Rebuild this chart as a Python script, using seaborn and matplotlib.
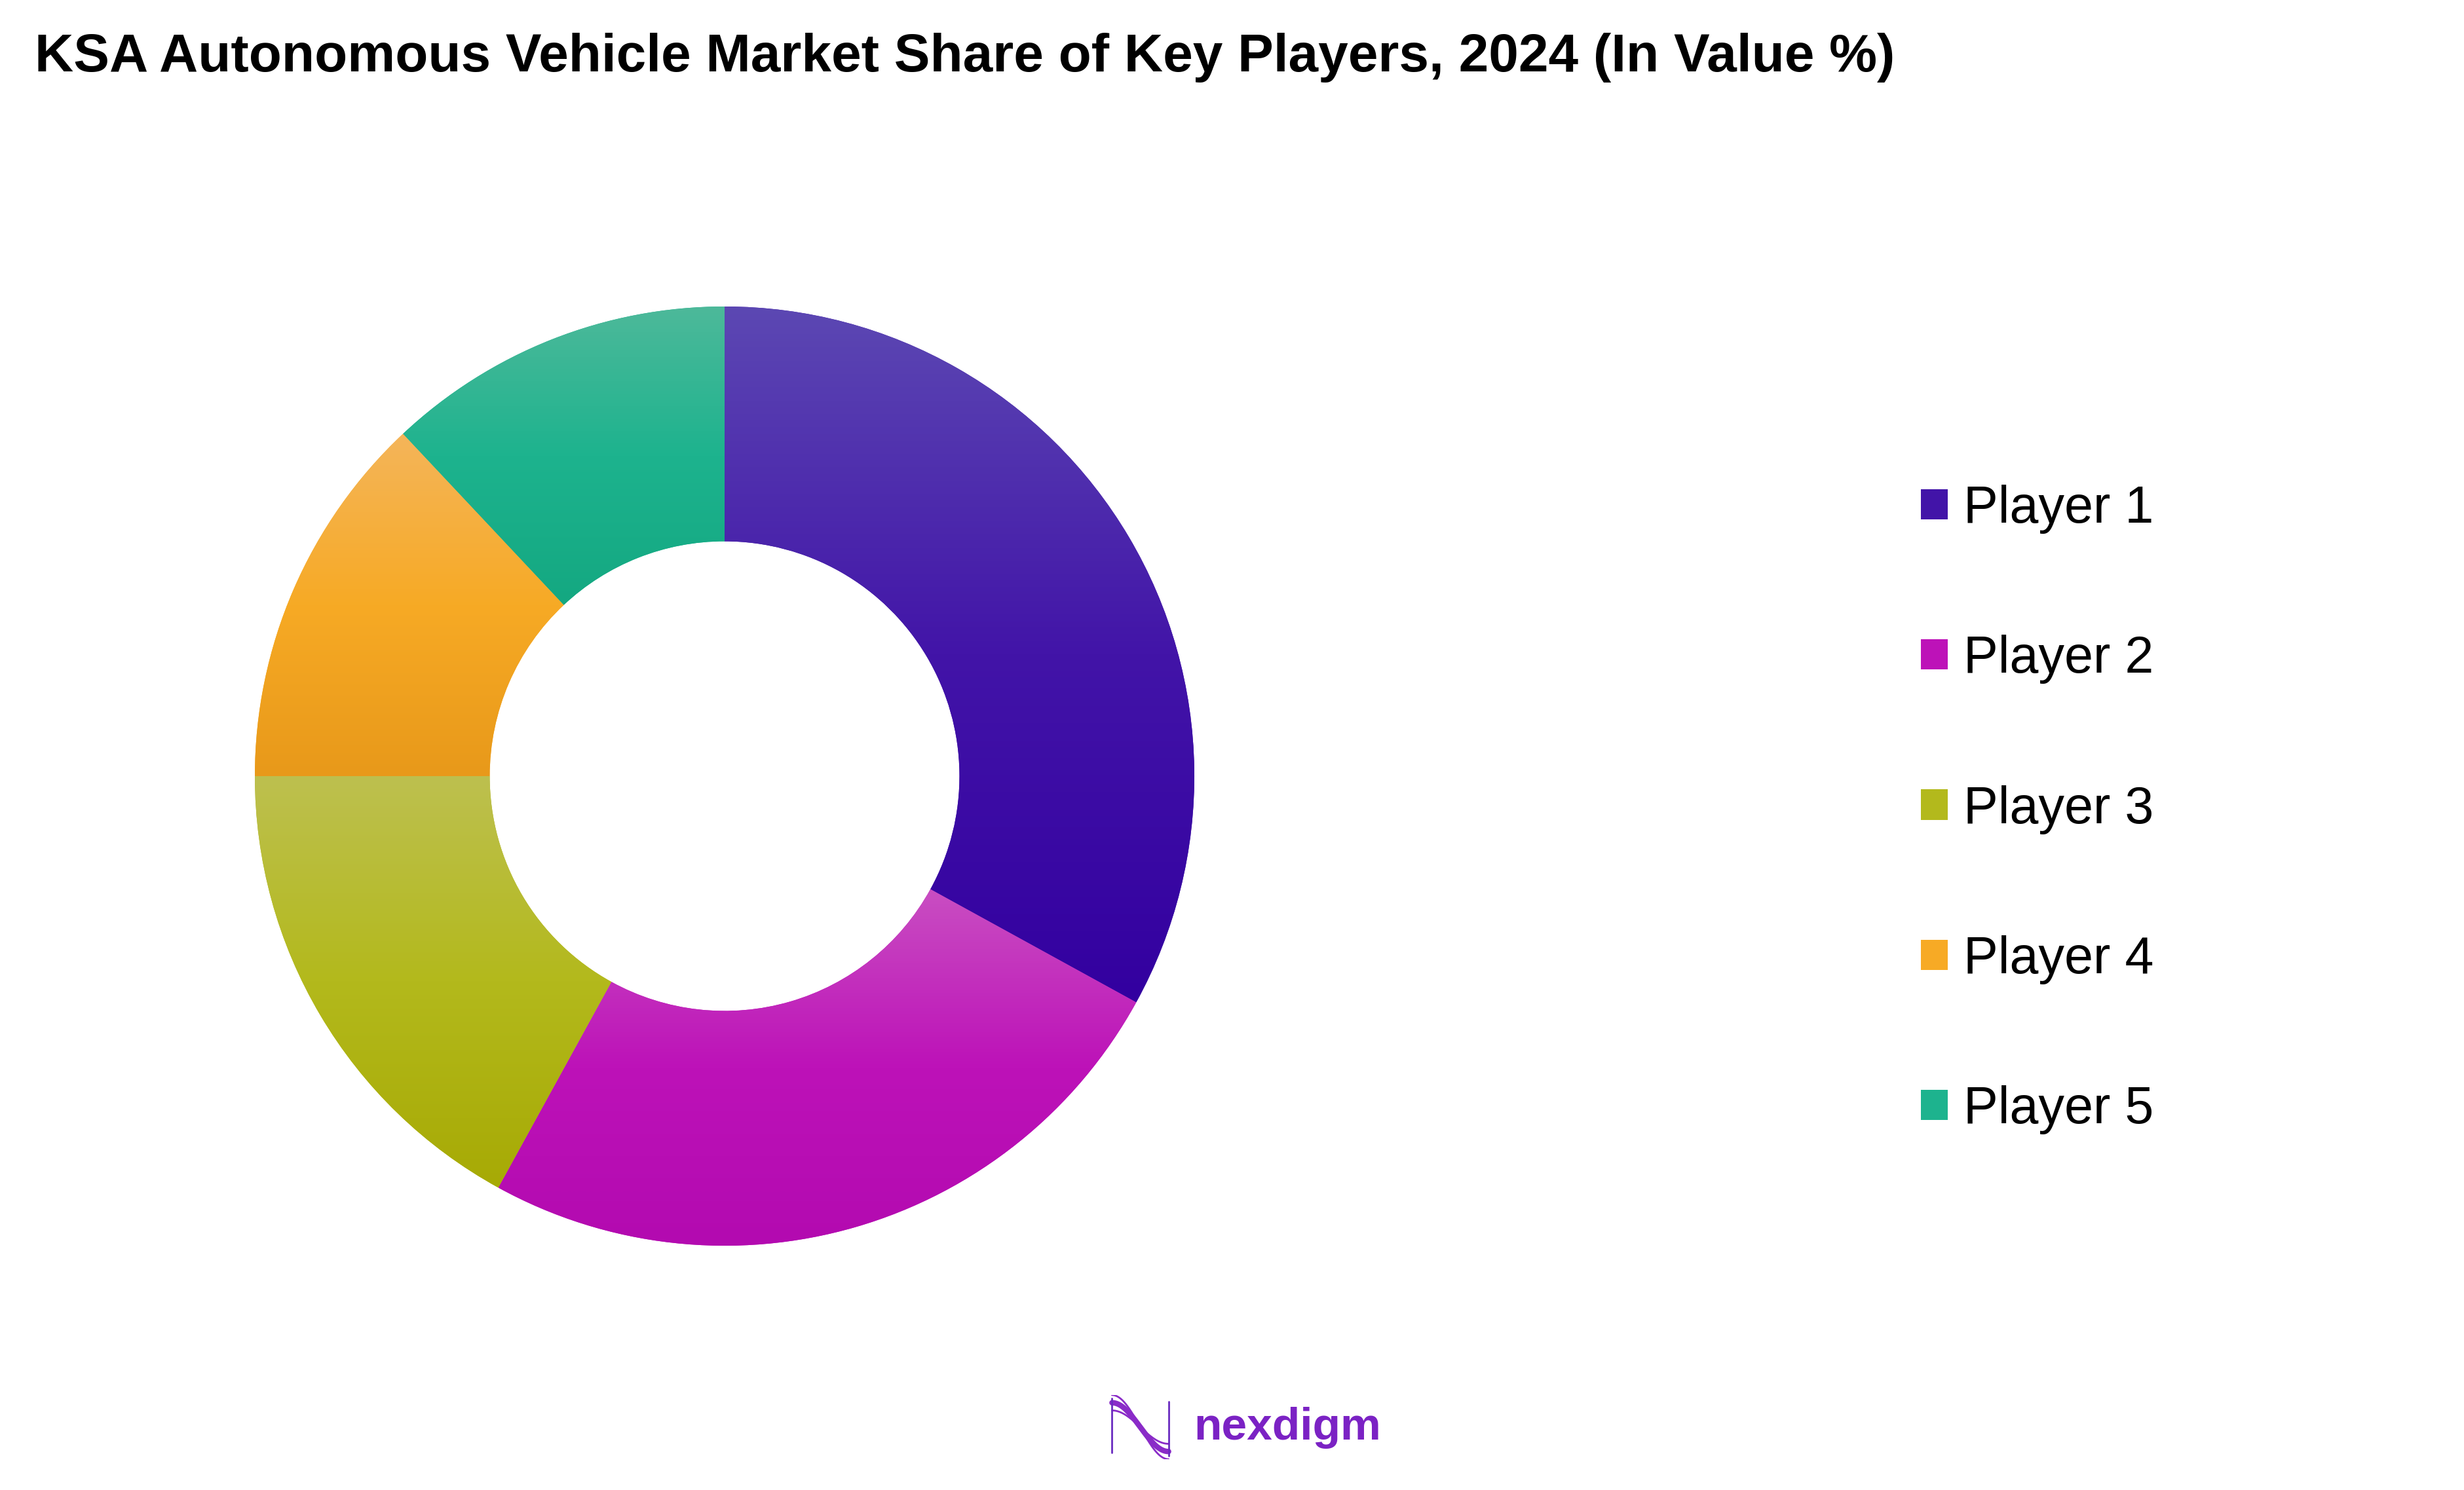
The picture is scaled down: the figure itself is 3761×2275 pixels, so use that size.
import numpy as np
import matplotlib
matplotlib.use("Agg")
import matplotlib.pyplot as plt
import matplotlib.colors as mcolors
from matplotlib.patches import Patch
import seaborn as sns

# ---- data ----
players = ["Player 1", "Player 2", "Player 3", "Player 4", "Player 5"]
shares = [33, 25, 17, 13, 12]
base_colors = ["#4214a8", "#bd12b8", "#b3b91c", "#f7aa25", "#1db38e"]
top_colors = ["#5c48b3", "#c94ec2", "#bdc04f", "#f4b55a", "#4db99a"]
bottom_colors = ["#3300a0", "#b30ab0", "#a7aa05", "#e8991a", "#14a881"]
title = "KSA Autonomous Vehicle Market Share of Key Players, 2024 (In Value %)"

sns.set_theme(style="white")
plt.rcParams["font.family"] = ["Liberation Sans", "DejaVu Sans"]
plt.rcParams["text.color"] = "black"

W, H = 3761, 2275
DPI = 100
fig = plt.figure(figsize=(W / DPI, H / DPI), dpi=DPI)
fig.patch.set_facecolor("white")

cx, cy, R = 1106, 1185, 717
ax = fig.add_axes([(cx - R) / W, (H - cy - R) / H, 2 * R / W, 2 * R / H])
wedges, _ = ax.pie(shares, colors=base_colors, startangle=90, counterclock=False,
                   radius=1.0, wedgeprops=dict(width=0.5, linewidth=0))
ax.set_xlim(-1, 1)
ax.set_ylim(-1, 1)
ax.set_aspect("equal")
ax.axis("off")

# vertical gradient fill (light top -> base -> darker bottom) clipped to each wedge
for w, tc, mc, bc in zip(wedges, top_colors, base_colors, bottom_colors):
    ext = w.get_path().get_extents()
    cmap = mcolors.LinearSegmentedColormap.from_list(
        "g", [(0.0, tc), (0.5, mc), (1.0, bc)])
    f = np.linspace(0, 1, 256)
    img = cmap(f)[:, None, :3]
    im = ax.imshow(img, extent=[ext.x0, ext.x1, ext.y0, ext.y1], origin="upper",
                   aspect="auto", interpolation="bilinear", zorder=w.get_zorder() + 0.1)
    im.set_clip_path(w)
ax.set_xlim(-1, 1)
ax.set_ylim(-1, 1)

# title
fig.text(53 / W, 1 - 88 / H, title, fontsize=59, fontweight="bold", color="black",
         ha="left", va="center")

# legend
handles = [Patch(facecolor=c, edgecolor="none") for c in base_colors]
leg = fig.legend(handles, players, loc="center left", bbox_to_anchor=(2932 / W, 1 - 1236 / H),
                 frameon=False, fontsize=57, handlelength=0.52, handleheight=0.52,
                 handletextpad=0.3, labelspacing=1.95, borderpad=0, borderaxespad=0)
for txt in leg.get_texts():
    txt.set_color("black")

# logo
lax = fig.add_axes([1693 / W, (H - 2228) / H, 95 / W, 98 / H])
lax.axis("off")
tt = np.linspace(0, 1, 200)
for k, lw in zip([0.0, 0.12, -0.12], [6, 2, 2]):
    x = tt
    y = 0.5 + (0.38 + k) * np.cos(np.pi * tt)
    lax.plot(x, y, color="#8a2bc8", lw=lw, solid_capstyle="round")
lax.plot([0, 0], [0.1, 0.95], color="#6a2bc0", lw=2)
lax.plot([1, 1], [0.05, 0.9], color="#6a2bc0", lw=2)
lax.set_xlim(-0.05, 1.05)
lax.set_ylim(0, 1)
fig.text(1822 / W, 1 - 2180 / H, "nexdigm", fontsize=50, fontweight="bold",
         color="#7b22c4", ha="left", va="center")

fig.savefig("out.png", dpi=DPI, facecolor="white")
